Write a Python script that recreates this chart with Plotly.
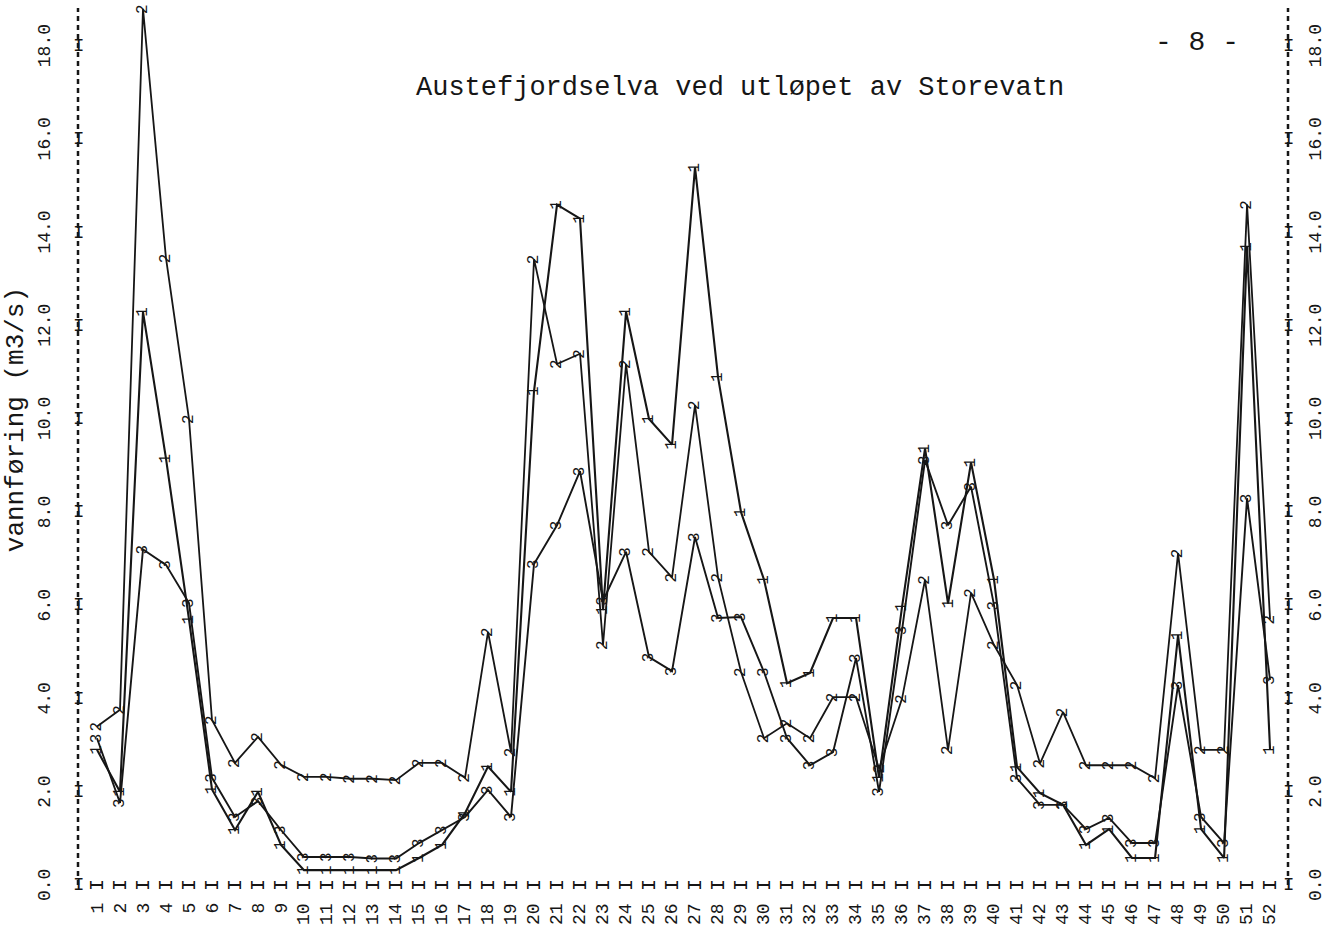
import plotly.graph_objects as go

# ---------------- data ----------------
weeks = list(range(1, 53))
week_labels = [str(w) for w in weeks]

series1 = [2.9, 2.0, 12.3, 9.15, 5.7, 2.05, 1.18, 2.0, 0.86, 0.32,
           0.32, 0.32, 0.32, 0.32, 0.58, 0.86, 1.54, 2.54, 2.0, 10.6,
           14.6, 14.3, 5.9, 12.3, 10.0, 9.45, 15.4, 10.9, 8.0, 6.55,
           4.33, 4.55, 5.73, 5.73, 2.3, 5.97, 9.37, 6.04, 9.07, 6.55,
           2.53, 1.97, 1.72, 0.86, 1.2, 0.58, 0.58, 5.36, 1.2, 0.58,
           13.7, 2.9]
series2 = [3.4, 3.76, 18.8, 13.45, 10.0, 3.54, 2.62, 3.18, 2.58, 2.32,
           2.32, 2.28, 2.28, 2.25, 2.62, 2.62, 2.3, 5.43, 2.85, 13.43,
           11.18, 11.4, 5.15, 11.18, 7.15, 6.6, 10.3, 6.6, 4.57, 3.15,
           3.47, 3.15, 4.03, 4.03, 2.5, 4.0, 6.55, 2.9, 6.27, 5.15,
           4.29, 2.61, 3.71, 2.57, 2.57, 2.57, 2.29, 7.12, 2.9, 2.9,
           14.6, 5.7]
series3 = [3.15, 1.76, 7.2, 6.87, 6.05, 2.3, 1.46, 1.8, 1.18, 0.6,
           0.6, 0.6, 0.57, 0.57, 0.9, 1.18, 1.46, 2.04, 1.46, 6.89,
           7.72, 8.88, 6.1, 7.15, 4.89, 4.59, 7.47, 5.73, 5.75, 4.57,
           3.15, 2.57, 2.85, 4.87, 2.0, 5.47, 9.12, 7.72, 8.55, 6.0,
           2.29, 1.72, 1.72, 1.2, 1.44, 0.9, 0.9, 4.29, 1.46, 0.9,
           8.3, 4.4]
series_symbols = ["1", "2", "3"]

y_ticks = [0, 2, 4, 6, 8, 10, 12, 14, 16, 18]
y_tick_labels = ["0.0", "2.0", "4.0", "6.0", "8.0", "10.0", "12.0", "14.0", "16.0", "18.0"]

title_text = "Austefjordselva ved utløpet av Storevatn"
y_title = "vannføring (m3/s)"
page_text = "- 8 -"

# ---------------- style ----------------
MONO = "Liberation Mono, Courier New, monospace"
INK = "#161616"
W, H = 1332, 937
ML, MR, MT, MB = 78, 44, 8, 52
X_RANGE = [0.174, 52.78]
Y_RANGE = [0, 18.82]

fig = go.Figure()

for vals, lw in ((series1, 2.1), (series2, 1.8), (series3, 1.9)):
    fig.add_trace(go.Scatter(
        x=weeks, y=vals, mode="lines",
        line=dict(color=INK, width=lw),
        hoverinfo="skip", showlegend=False, cliponaxis=False,
    ))

ann = []
# point markers: rotated digits like the line-printer original
for sym, vals in zip(series_symbols, (series1, series2, series3)):
    for w, v in zip(weeks, vals):
        ann.append(dict(x=w, y=v, xref="x", yref="y", text=sym, showarrow=False,
                        textangle=-90, xanchor="center", yanchor="middle",
                        font=dict(family=MONO, size=16, color=INK)))

# bottom row of I ticks and week labels
for w, lab in zip(weeks, week_labels):
    ann.append(dict(x=w, y=0, xref="x", yref="y", text="I", showarrow=False,
                    textangle=-90, xanchor="center", yanchor="middle",
                    font=dict(family=MONO, size=20, color=INK)))
    ann.append(dict(x=w, y=0, xref="x", yref="paper", text=lab, showarrow=False,
                    textangle=-90, xanchor="center", yanchor="top", yshift=-16,
                    font=dict(family=MONO, size=18, color=INK)))

# vertical axes: I ticks and rotated labels both sides
for t, lab in zip(y_ticks, y_tick_labels):
    for side, shift in ((0, -33), (1, 28)):
        ann.append(dict(x=side, y=t, xref="paper", yref="y", text="I", showarrow=False,
                        xanchor="center", yanchor="middle",
                        font=dict(family=MONO, size=19, color=INK)))
        ann.append(dict(x=side, y=t, xref="paper", yref="y", text=lab, showarrow=False,
                        textangle=-90, xanchor="center", yanchor="middle", xshift=shift,
                        font=dict(family=MONO, size=18, color=INK)))

# titles
ann.append(dict(x=0, y=0.53, xref="paper", yref="paper", text=y_title, showarrow=False,
                textangle=-90, xanchor="center", yanchor="middle", xshift=-62,
                font=dict(family=MONO, size=26, color=INK)))
ann.append(dict(x=0.547, y=0.909, xref="paper", yref="paper", text=title_text, showarrow=False,
                xanchor="center", yanchor="middle",
                font=dict(family=MONO, size=27, color=INK)))
ann.append(dict(x=0.925, y=0.961, xref="paper", yref="paper", text=page_text, showarrow=False,
                xanchor="center", yanchor="middle",
                font=dict(family=MONO, size=28, color=INK)))

shapes = []
for side in (0, 1):
    shapes.append(dict(type="line", xref="paper", yref="paper", x0=side, x1=side, y0=0, y1=1,
                       line=dict(color=INK, width=2.5, dash="5px,4px")))

fig.update_layout(
    width=W, height=H,
    margin=dict(l=ML, r=MR, t=MT, b=MB),
    paper_bgcolor="white", plot_bgcolor="white",
    xaxis=dict(range=X_RANGE, visible=False, fixedrange=True),
    yaxis=dict(range=Y_RANGE, visible=False, fixedrange=True),
    annotations=ann, shapes=shapes, showlegend=False,
)

fig.write_html("out.html", post_script="document.body.style.margin='0';",
               config={"displayModeBar": False})
